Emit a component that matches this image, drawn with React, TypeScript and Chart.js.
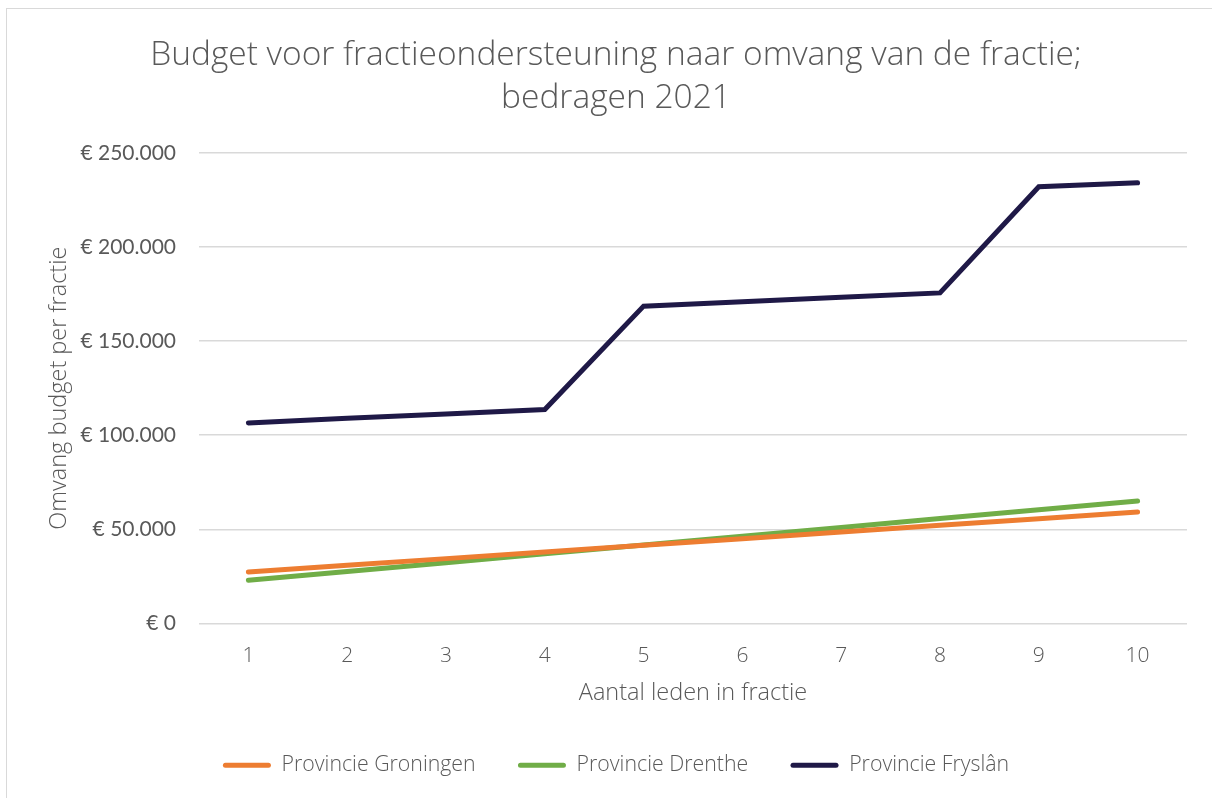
import { useEffect, useRef } from 'react';
import { Chart, registerables } from 'chart.js';

Chart.register(...registerables);

const titleLines = ['Budget voor fractieondersteuning naar omvang van de fractie;', 'bedragen 2021'];
const categories = ['1', '2', '3', '4', '5', '6', '7', '8', '9', '10'];
const seriesNames = ['Provincie Groningen', 'Provincie Drenthe', 'Provincie Fryslân'];
const groningen = [27300, 30850, 34400, 37900, 41450, 45000, 48550, 52100, 55650, 59200];
const drenthe = [22900, 27600, 32250, 36950, 41650, 46300, 51000, 55700, 60350, 65050];
const fryslan = [106550, 108950, 111300, 113650, 168600, 170950, 173300, 175650, 232100, 234200];
const seriesColors = ['#ED7D31', '#70AD47', '#1F1947'];
const yMin = 0;
const yMax = 250000;
const yStep = 50000;
const xTitle = 'Aantal leden in fractie';
const yTitle = 'Omvang budget per fractie';

const TEXT = '#595959';
const FAMILY = '"Open Sans", Lato, sans-serif';
const TICKFAMILY = 'Lato, "Open Sans", sans-serif';

function euro(v: number): string {
  const s = Math.round(v).toString().replace(/\B(?=(\d{3})+(?!\d))/g, '.');
  return '€ ' + s;
}

export default function App() {
  const ref = useRef<HTMLCanvasElement | null>(null);
  useEffect(() => {
    const values = [groningen, drenthe, fryslan];
    const chart = new Chart(ref.current as HTMLCanvasElement, {
      type: 'line',
      data: {
        labels: categories,
        datasets: seriesNames.map((name, i) => ({
          label: name,
          data: values[i],
          borderColor: seriesColors[i],
          backgroundColor: seriesColors[i],
          borderWidth: 5,
          borderCapStyle: 'round' as const,
          borderJoinStyle: 'miter' as const,
          pointRadius: 0,
          pointHoverRadius: 0,
          tension: 0,
          fill: false,
        })),
      },
      options: {
        responsive: false,
        animation: false,
        devicePixelRatio: 1,
        layout: { padding: { left: 38, right: 38, top: 0, bottom: 0 } },
        plugins: {
          title: {
            display: true,
            text: titleLines,
            color: TEXT,
            font: { family: FAMILY, size: 33.5, weight: 300 as any, lineHeight: 1.2836 },
            padding: { top: 24.5, bottom: 33.5 },
          },
          legend: {
            position: 'bottom',
            labels: {
              boxWidth: 48,
              boxHeight: 5,
              padding: 42.35,
              color: TEXT,
              font: { family: FAMILY, size: 21.3, weight: 300 as any },
              useBorderRadius: true,
              borderRadius: 2.5,
              generateLabels: (c: any) =>
                c.data.datasets.map((d: any, i: number) => ({
                  text: d.label,
                  fillStyle: d.borderColor,
                  strokeStyle: d.borderColor,
                  lineWidth: 0,
                  hidden: false,
                  datasetIndex: i,
                  fontColor: TEXT,
                  borderRadius: 2.5,
                })),
            },
          },
          tooltip: { enabled: false },
        },
        scales: {
          x: {
            type: 'category',
            offset: true,
            grid: { display: false, drawTicks: false },
            border: { display: false },
            ticks: { padding: 20, color: TEXT, font: { family: FAMILY, size: 21, weight: 300 as any } },
            title: {
              display: true,
              text: xTitle,
              color: TEXT,
              font: { family: FAMILY, size: 23.5, weight: 300 as any },
              padding: { top: 10, bottom: 4.9 },
            },
            afterFit: (s: any) => {
              s.height = 89;
            },
          },
          y: {
            min: yMin,
            max: yMax,
            ticks: {
              stepSize: yStep,
              padding: 23,
              color: TEXT,
              font: { family: TICKFAMILY, size: 21, weight: 400 as any },
              callback: (v: any) => euro(Number(v)),
            },
            grid: { color: '#D9D9D9', lineWidth: 1.5, drawTicks: false },
            border: { display: false },
            title: {
              display: true,
              text: yTitle,
              color: TEXT,
              font: { family: FAMILY, size: 23.5, weight: 300 as any },
              padding: { top: 0, bottom: 0 },
            },
            afterFit: (s: any) => {
              s.width = 154;
            },
          },
        },
      },
    });
    return () => chart.destroy();
  }, []);

  return (
    <div style={{ position: 'fixed', left: 0, top: 0, width: 1212, height: 798, overflow: 'hidden', background: '#fff' }}>
      <div
        style={{
          position: 'absolute',
          left: 6,
          top: 8,
          width: 1400,
          height: 1000,
          borderLeft: '1.5px solid #D9D9D9',
          borderTop: '1.5px solid #D9D9D9',
          boxSizing: 'border-box',
        }}
      />
      <canvas
        ref={ref}
        width={1218}
        height={777}
        style={{ position: 'absolute', left: 7, top: 9, width: 1218, height: 777 }}
      />
    </div>
  );
}
